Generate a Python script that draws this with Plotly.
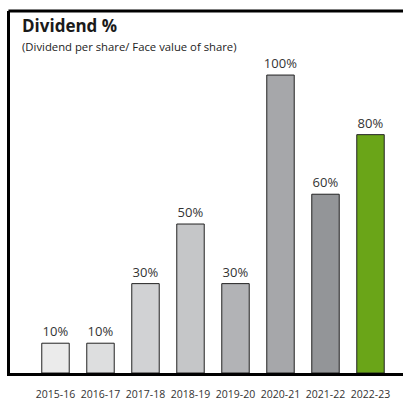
import plotly.graph_objects as go

years = ["2015-16", "2016-17", "2017-18", "2018-19", "2019-20", "2020-21", "2021-22", "2022-23"]
dividend_pct = [10, 10, 30, 50, 30, 100, 60, 80]
labels = [f"{v}%" for v in dividend_pct]
bar_colors = ["#ebebeb", "#dddedf", "#d1d2d4", "#c5c6c8", "#b2b3b6", "#a6a7aa", "#939598", "#6aa518"]

FONT = "Open Sans"

fig = go.Figure(go.Bar(
    x=list(range(len(years))),
    y=dividend_pct,
    text=labels,
    textposition="outside",
    constraintext="none",
    textfont=dict(family=FONT, size=13, color="#333333"),
    marker=dict(color=bar_colors, line=dict(color="#222222", width=1)),
    width=0.61,
    cliponaxis=False,
))

fig.update_layout(
    width=403, height=401,
    margin=dict(l=10, r=0, t=11, b=24),
    paper_bgcolor="white", plot_bgcolor="white",
    showlegend=False,
    bargap=0,
    xaxis=dict(
        range=[-1.011, 7.722],
        tickmode="array", tickvals=list(range(len(years))), ticktext=years,
        tickfont=dict(family=FONT, size=10.5, color="#333333"),
        showline=True, linecolor="black", linewidth=3,
        showgrid=False, zeroline=False,
        ticks="outside", ticklen=9, tickcolor="rgba(0,0,0,0)",
        fixedrange=True,
    ),
    yaxis=dict(
        range=[0, 121.5],
        showline=True, linecolor="black", linewidth=3,
        showgrid=False, zeroline=False, showticklabels=False, ticks="",
        fixedrange=True,
    ),
    shapes=[
        dict(type="line", xref="paper", yref="paper", x0=-0.004, x1=1.0, y0=1, y1=1,
             line=dict(color="black", width=3)),
    ],
    annotations=[
        dict(text="<b>Dividend %</b>", xref="paper", yref="paper", x=10/393, y=(377-26)/366,
             xanchor="left", yanchor="middle", showarrow=False,
             font=dict(family=FONT, size=17, color="#1a1a1a")),
        dict(text="(Dividend per share/ Face value of share)", xref="paper", yref="paper",
             x=10/393, y=(377-47)/366, xanchor="left", yanchor="middle", showarrow=False,
             font=dict(family=FONT, size=11.3, color="#222222")),
    ],
)

fig.write_html("out.html", config={"displayModeBar": False, "staticPlot": True},
               post_script="document.body.style.margin='0';document.body.style.padding='0';document.body.style.overflow='hidden';")
